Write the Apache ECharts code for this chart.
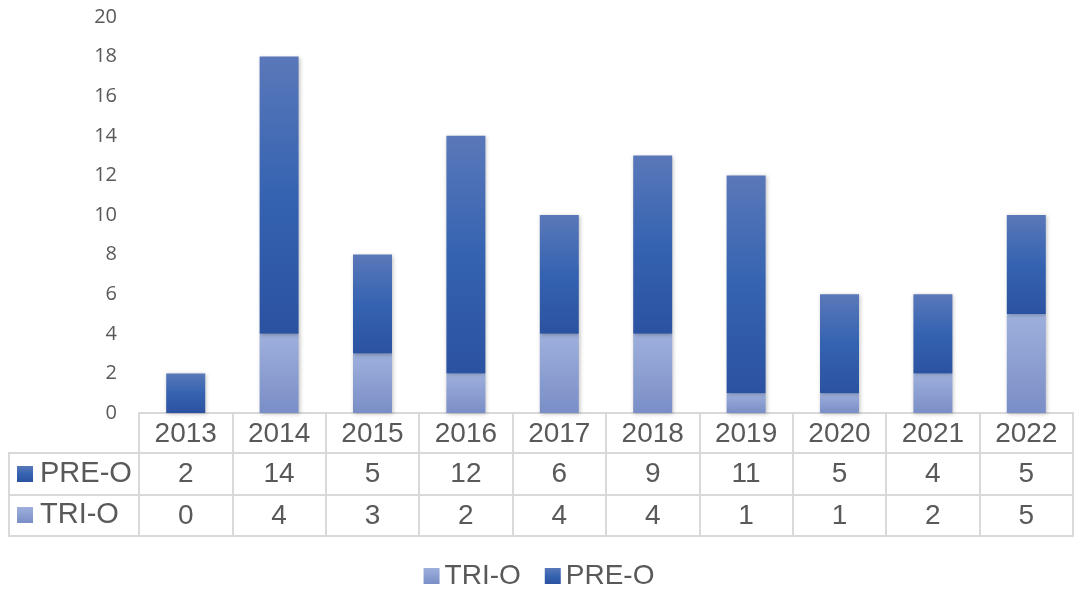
<!DOCTYPE html>
<html>
<head>
<meta charset="utf-8">
<script src="https://cdn.jsdelivr.net/npm/echarts@6/dist/echarts.min.js"></script>
<style>
  html, body { margin: 0; padding: 0; background: #fff; }
  #main { width: 1078px; height: 590px; }
</style>
</head>
<body>
<div id="main"></div>
<script>
// data
var years = ['2013', '2014', '2015', '2016', '2017', '2018', '2019', '2020', '2021', '2022'];
var preO = [2, 14, 5, 12, 6, 9, 11, 5, 4, 5];
var triO = [0, 4, 3, 2, 4, 4, 1, 1, 2, 5];
var seriesNames = ['TRI-O', 'PRE-O'];

var gridColor = '#d9d9d9';
var textColor = '#595959';
var tableFont = 'Liberation Sans';

var preColor = new echarts.graphic.LinearGradient(0, 0, 0, 1, [
  { offset: 0, color: '#5a78b9' },
  { offset: 0.5, color: '#3563b1' },
  { offset: 1, color: '#2b52a0' }
]);
var triColor = new echarts.graphic.LinearGradient(0, 0, 0, 1, [
  { offset: 0, color: '#9eb0dc' },
  { offset: 1, color: '#7a8ec7' }
]);

var chart = echarts.init(document.getElementById('main'));

// 表格的每一行都用一个带 offset 的 x 轴来画
function tableAxis(offset, tickLen, values) {
  return {
    type: 'category',
    data: years,
    position: 'bottom',
    offset: offset,
    axisLine: { show: true, lineStyle: { color: gridColor, width: 2 } },
    axisTick: { show: tickLen > 0, length: tickLen, lineStyle: { color: gridColor, width: 2 } },
    axisLabel: {
      show: !!values,
      margin: 21,
      verticalAlign: 'middle',
      color: textColor,
      fontFamily: tableFont,
      fontSize: 28,
      formatter: function (v, i) { return values ? values[i] : ''; }
    },
    splitLine: { show: false }
  };
}

var barShadow = {
  shadowBlur: 4,
  shadowColor: 'rgba(0,0,0,0.25)',
  shadowOffsetX: 1,
  shadowOffsetY: 1
};

function rowLabel(y, name, color) {
  return [
    { type: 'rect', shape: { x: 17, y: y - 8, width: 16, height: 16 }, style: { fill: color } },
    { type: 'text', x: 40, y: y, style: { text: name, fill: textColor, font: '29px "' + tableFont + '"', verticalAlign: 'middle' } }
  ];
}

var lineStyle = { stroke: gridColor, lineWidth: 2 };

var option = {
  animation: false,
  grid: { left: 139, right: 5, top: 17, bottom: 177, containLabel: false },
  legend: {
    data: seriesNames,
    top: 557,
    left: 'center',
    icon: 'rect',
    itemWidth: 16,
    itemHeight: 16,
    itemGap: 24,
    textStyle: { color: textColor, fontFamily: tableFont, fontSize: 28 }
  },
  xAxis: [
    tableAxis(0, 40, years),
    tableAxis(40, 42, preO),
    tableAxis(82, 41, triO),
    tableAxis(123, 0, null)
  ],
  yAxis: {
    type: 'value',
    min: 0,
    max: 20,
    interval: 2,
    axisLine: { show: false },
    axisTick: { show: false },
    splitLine: { show: false },
    axisLabel: { color: textColor, fontFamily: 'Open Sans', fontSize: 20, margin: 22 }
  },
  graphic: [
    { type: 'line', shape: { x1: 9, y1: 453, x2: 139, y2: 453 }, style: lineStyle },
    { type: 'line', shape: { x1: 9, y1: 495, x2: 139, y2: 495 }, style: lineStyle },
    { type: 'line', shape: { x1: 9, y1: 536, x2: 139, y2: 536 }, style: lineStyle },
    { type: 'line', shape: { x1: 9, y1: 452, x2: 9, y2: 537 }, style: lineStyle }
  ].concat(rowLabel(474, 'PRE-O', preColor), rowLabel(515, 'TRI-O', triColor)),
  series: [
    {
      name: 'TRI-O',
      type: 'bar',
      stack: 'total',
      xAxisIndex: 0,
      barWidth: 39,
      data: triO,
      itemStyle: Object.assign({ color: triColor }, barShadow)
    },
    {
      name: 'PRE-O',
      type: 'bar',
      stack: 'total',
      xAxisIndex: 0,
      barWidth: 39,
      data: preO,
      itemStyle: Object.assign({ color: preColor }, barShadow)
    }
  ]
};

chart.setOption(option);
</script>
</body>
</html>
